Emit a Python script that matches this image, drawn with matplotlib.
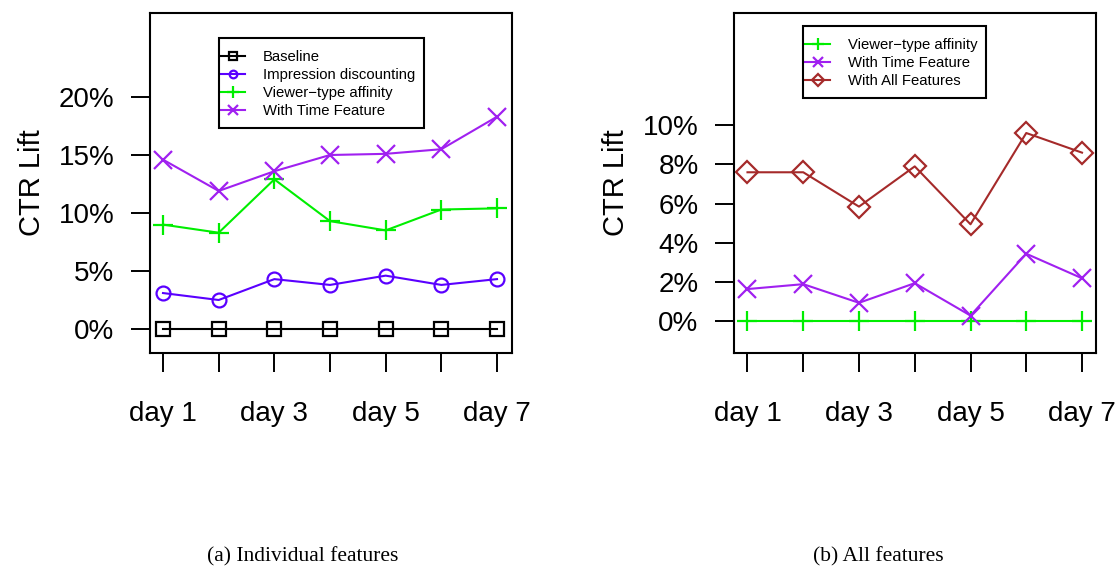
import numpy as np
import matplotlib
matplotlib.use("Agg")
import matplotlib.pyplot as plt
from matplotlib.patches import Rectangle

plt.rcParams['font.family'] = ['Liberation Sans', 'DejaVu Sans']

days = [1, 2, 3, 4, 5, 6, 7]
day_labels = ["day 1", "", "day 3", "", "day 5", "", "day 7"]

# panel (a): individual features, CTR lift in %
baseline = [0, 0, 0, 0, 0, 0, 0]
impression = [3.1, 2.5, 4.3, 3.8, 4.6, 3.8, 4.3]
viewer_a = [9.0, 8.3, 12.9, 9.3, 8.5, 10.3, 10.4]
time_a = [14.6, 11.9, 13.6, 15.0, 15.1, 15.5, 18.3]
yticks_a = [0, 5, 10, 15, 20]

# panel (b): all features, relative to viewer-type affinity
viewer_b = [0, 0, 0, 0, 0, 0, 0]
time_b = [1.65, 1.9, 0.95, 1.95, 0.3, 3.45, 2.2]
all_b = [7.6, 7.6, 5.85, 7.9, 4.95, 9.6, 8.6]
yticks_b = [0, 2, 4, 6, 8, 10]

W, H = 1119, 569
fig = plt.figure(figsize=(W / 100, H / 100), dpi=100)

def px_axes(x0, x1, y0, y1):
    return fig.add_axes([x0 / W, (H - y1) / H, (x1 - x0) / W, (y1 - y0) / H])

def px_box(x0, x1, y0, y1):
    fig.add_artist(Rectangle((x0 / W, (H - y1) / H), (x1 - x0) / W, (y1 - y0) / H,
                             transform=fig.transFigure, fill=False, lw=1.5, ec="black", zorder=5))

ax1 = px_axes(150, 512, 13, 353)
ax2 = px_axes(734, 1096, 13, 353)

lw = 1.5
ax1.plot(days, baseline, color="black", lw=lw, marker="s", ms=9.5, mfc="none", mew=1.6, label="Baseline")
ax1.plot(days, impression, color="#5a00ff", lw=lw, marker="o", ms=10, mfc="none", mew=1.6, label="Impression discounting")
ax1.plot(days, viewer_a, color="#00ee00", lw=lw, marker="+", ms=15, mew=1.6, label="Viewer\u2212type affinity")
ax1.plot(days, time_a, color="#a020f0", lw=lw, marker="x", ms=13, mew=1.6, label="With Time Feature")

ax2.plot(days, viewer_b, color="#00ee00", lw=lw, marker="+", ms=15, mew=1.6, label="Viewer\u2212type affinity")
ax2.plot(days, time_b, color="#a020f0", lw=lw, marker="x", ms=13, mew=1.6, label="With Time Feature")
ax2.plot(days, all_b, color="#a52a2a", lw=lw, marker="D", ms=11, mfc="none", mew=1.6, label="With All Features")

# axis limits from pixel positions in the reference
ax1.set_xlim(1 - 13 / 55.67, 7 + 15 / 55.67)
ax1.set_ylim(-24 / 11.6, 20 + 84 / 11.6)
ax2.set_xlim(1 - 13.5 / 55.8, 7 + 14 / 55.8)
ax2.set_ylim(-31.5 / 19.6, 10 + 112 / 19.6)

for ax, yt in [(ax1, yticks_a), (ax2, yticks_b)]:
    ax.set_xticks(days)
    ax.set_xticklabels(day_labels)
    ax.set_yticks(yt)
    ax.set_yticklabels([f"{v}%" for v in yt])
    ax.tick_params(axis="both", direction="out", length=13.5, width=1.4, labelsize=20)
    ax.tick_params(axis="x", pad=21)
    ax.tick_params(axis="y", pad=12)
    for s in ax.spines.values():
        s.set_linewidth(1.5)
    ax.set_ylabel("CTR Lift", fontsize=21, labelpad=9)

leg_kw = dict(fontsize=10.7, frameon=False, handlelength=1.7, handletextpad=1.2,
              borderpad=0, labelspacing=0.27, markerscale=0.55, loc="upper left",
              bbox_transform=fig.transFigure, borderaxespad=0)
ax1.legend(bbox_to_anchor=(220 / W, 1 - 50 / H), **leg_kw)
ax2.legend(bbox_to_anchor=(805 / W, 1 - 38 / H), **leg_kw)
px_box(219, 424, 38, 128)
px_box(803, 986, 26, 98)

fig.text(303 / W, 1 - 557 / H, "(a) Individual features", ha="center", va="center",
         fontsize=15.5, family="Liberation Serif")
fig.text(878 / W, 1 - 557 / H, "(b) All features", ha="center", va="center",
         fontsize=15.5, family="Liberation Serif")

fig.savefig("out.png", dpi=100)
